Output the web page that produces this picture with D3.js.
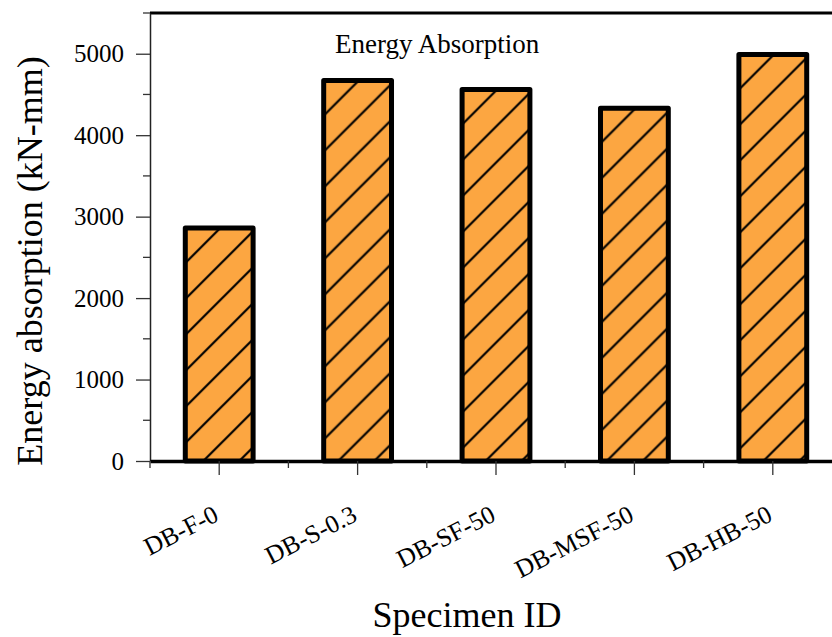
<!DOCTYPE html>
<html>
<head>
<meta charset="utf-8">
<script src="https://cdn.jsdelivr.net/npm/d3@7"></script>
<style>
  body { margin: 0; background: #fff; }
  svg text { font-family: 'Liberation Serif', 'Times New Roman', serif; fill: #000; }
</style>
</head>
<body>
<svg id="chart" width="832" height="637"></svg>
<script>
const specimens = ['DB-F-0', 'DB-S-0.3', 'DB-SF-50', 'DB-MSF-50', 'DB-HB-50'];
const energy = [2860, 4670, 4560, 4330, 4990];
const yTicks = [0, 1000, 2000, 3000, 4000, 5000];
const yMinorTicks = [500, 1500, 2500, 3500, 4500, 5500];

const svg = d3.select('#chart');
const plotLeft = 150;
const plotRight = 842; // plot runs off the right edge like the original
const plotTop = 13;
const plotBottom = 461;

const x = d3.scaleBand()
  .domain(specimens)
  .range([plotLeft, plotRight])
  .paddingInner(0.51)
  .paddingOuter(0.255);
const step = x.step();
const y = d3.scaleLinear().domain([0, 5500]).range([plotBottom, plotTop]);

const data = specimens.map((name, i) => ({ name, value: energy[i] }));

// hatch pattern, one per bar so the stripes start the same way in each bar
const defs = svg.append('defs');
data.forEach((d, i) => {
  const p = defs.append('pattern')
    .attr('id', `hatch${i}`)
    .attr('patternUnits', 'userSpaceOnUse')
    .attr('width', 36)
    .attr('height', 36)
    .attr('x', x(d.name) + 2)
    .attr('y', y(d.value) - 3);
  p.append('rect').attr('width', 36).attr('height', 36).attr('fill', '#fca641');
  p.append('path')
    .attr('d', 'M-4,40 L40,-4 M-4,4 L4,-4 M32,40 L40,32')
    .attr('stroke', '#000')
    .attr('stroke-width', 2.2);
});

// top frame line
svg.append('line')
  .attr('x1', plotLeft).attr('x2', plotRight)
  .attr('y1', plotTop).attr('y2', plotTop)
  .attr('stroke', '#000').attr('stroke-width', 3);

// bars
svg.append('g').selectAll('rect')
  .data(data).enter()
  .append('rect')
  .attr('x', d => x(d.name))
  .attr('y', d => y(d.value))
  .attr('width', x.bandwidth())
  .attr('height', d => plotBottom - y(d.value))
  .attr('fill', (d, i) => `url(#hatch${i})`)
  .attr('stroke', '#000')
  .attr('stroke-width', 5)
  .attr('stroke-linejoin', 'round');

// y axis
const yAxis = svg.append('g').attr('transform', `translate(${plotLeft},0)`);
yAxis.call(d3.axisLeft(y).tickValues(yTicks).tickSize(14).tickSizeOuter(0).tickFormat(d3.format('d')));
yAxis.select('.domain').attr('stroke', '#222').attr('stroke-width', 1.5);
yAxis.selectAll('.tick line').attr('stroke', '#333').attr('stroke-width', 1.3);
yAxis.selectAll('.tick text')
  .attr('x', -26)
  .style('font-size', '25px')
  .style('font-family', "'Liberation Serif', 'Times New Roman', serif");
yAxis.selectAll('.minor')
  .data(yMinorTicks).enter()
  .append('line')
  .attr('class', 'minor')
  .attr('x1', -7).attr('x2', 0)
  .attr('y1', d => y(d)).attr('y2', d => y(d))
  .attr('stroke', '#333').attr('stroke-width', 1.3);

// x axis
const xAxis = svg.append('g').attr('transform', `translate(0,${plotBottom})`);
xAxis.call(d3.axisBottom(x).tickSize(14).tickSizeOuter(0));
xAxis.select('.domain').attr('stroke', '#000').attr('stroke-width', 3.5);
xAxis.selectAll('.tick line').attr('stroke', '#333').attr('stroke-width', 1.3);
xAxis.selectAll('.tick text')
  .attr('x', 0)
  .attr('y', 0)
  .attr('dy', 0)
  .attr('text-anchor', 'end')
  .attr('transform', 'translate(1,59) rotate(-27)')
  .style('font-size', '25.5px')
  .style('font-family', "'Liberation Serif', 'Times New Roman', serif");
xAxis.selectAll('.minor')
  .data(d3.range(specimens.length))
  .enter()
  .append('line')
  .attr('class', 'minor')
  .attr('x1', i => plotLeft + i * step).attr('x2', i => plotLeft + i * step)
  .attr('y1', 0).attr('y2', 7)
  .attr('stroke', '#333').attr('stroke-width', 1.3);

// titles
svg.append('text')
  .attr('x', 335)
  .attr('y', 53)
  .style('font-size', '27px')
  .text('Energy Absorption');

svg.append('text')
  .attr('transform', 'translate(42,261) rotate(-90)')
  .attr('text-anchor', 'middle')
  .style('font-size', '36px')
  .text('Energy absorption (kN-mm)');

svg.append('text')
  .attr('x', 467)
  .attr('y', 627)
  .attr('text-anchor', 'middle')
  .style('font-size', '36px')
  .text('Specimen ID');
</script>
</body>
</html>
